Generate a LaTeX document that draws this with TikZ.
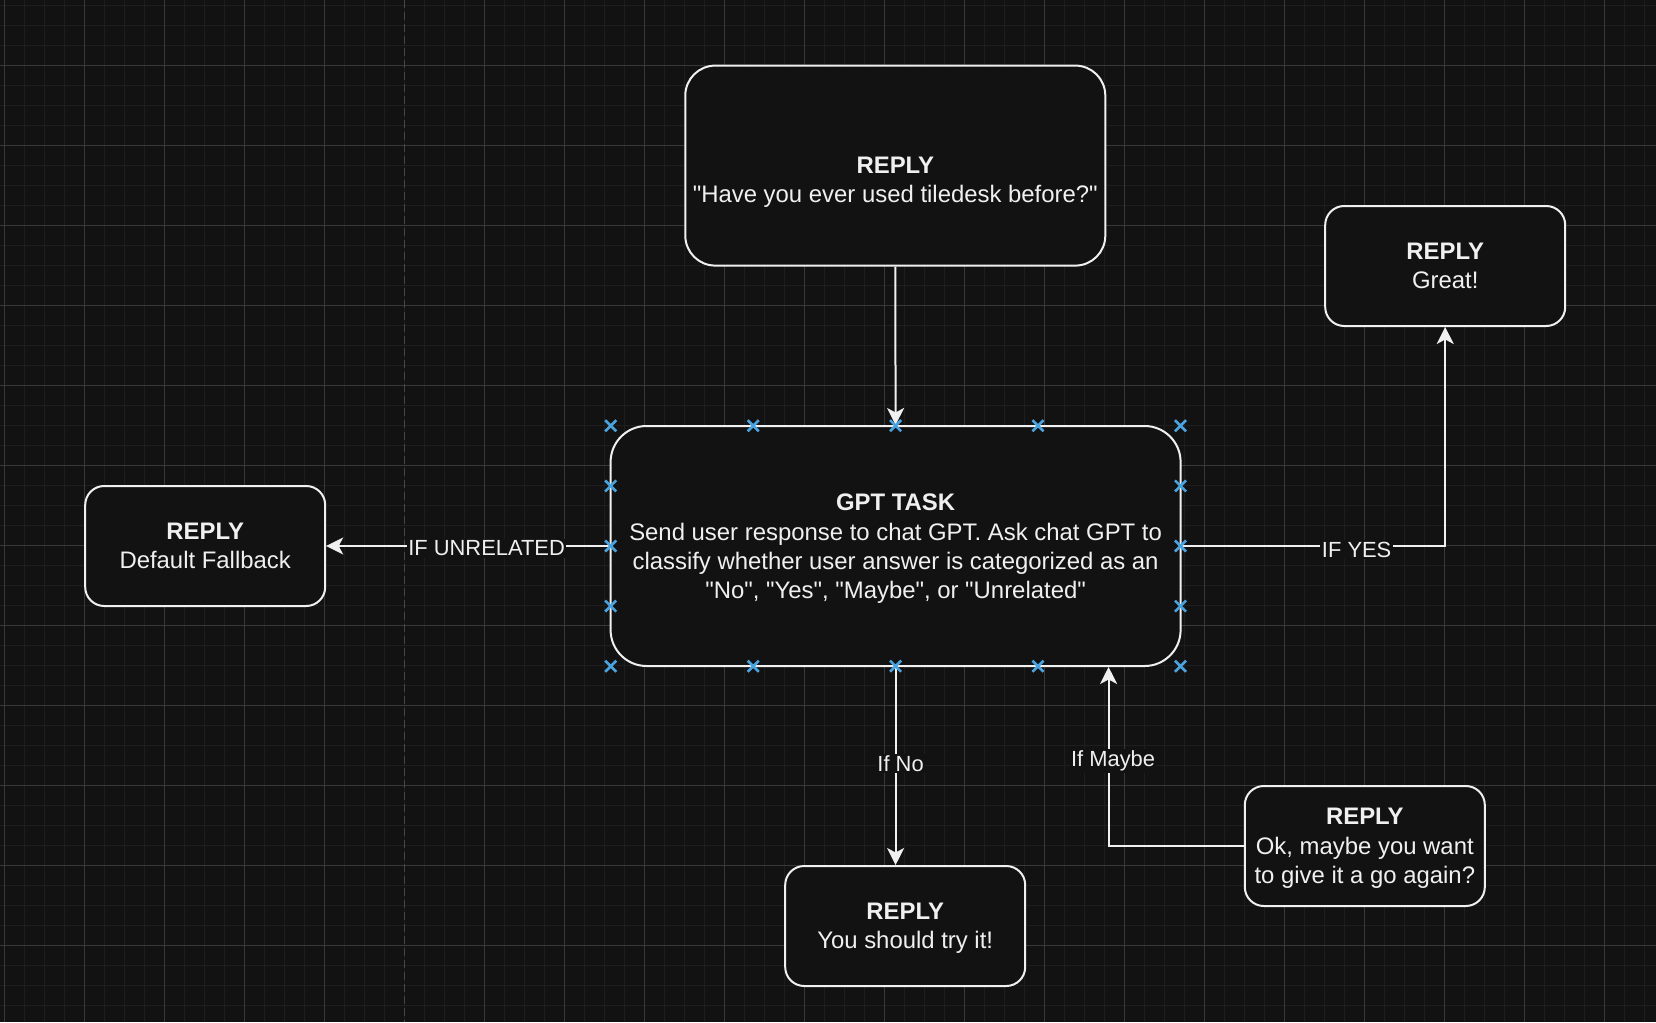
\documentclass[tikz,border=0pt]{standalone}
\usepackage{fontspec}
\setmainfont{Liberation Sans}[Ligatures=TeXOff]
\usetikzlibrary{arrows.meta,shapes.misc,calc}
\definecolor{bgc}{HTML}{121212}
\definecolor{minorc}{HTML}{1E1E1E}
\definecolor{majorc}{HTML}{383838}
\definecolor{dashc}{HTML}{464646}
\definecolor{fg}{HTML}{F0F0F0}
\definecolor{mk}{HTML}{4AA3DF}
\tikzset{
  box/.style={draw=fg, fill=bgc, line width=2pt, text=fg, align=center,
    font=\fontsize{23.9}{29.3}\selectfont, inner sep=0pt},
  small/.style={box, minimum width=240pt, minimum height=120pt, rounded corners=19pt},
  txt/.style={text=fg, align=center, font=\fontsize{23.9}{29.3}\selectfont, inner sep=0pt},
  conn/.style={draw=fg, line width=2pt, -{Stealth[length=17pt,width=17pt,inset=4.5pt]}},
  lbl/.style={fill=bgc, text=fg, font=\fontsize{21.9}{25}\selectfont, inner sep=1.5pt, yshift=-2.5pt},
  marker/.style={cross out, draw=mk, line width=2.6pt, minimum size=8.5pt, inner sep=0pt},
  minorline/.style={draw=minorc, line width=1pt},
  majorline/.style={draw=majorc, line width=1pt}
}
\begin{document}
\begin{tikzpicture}[x=1pt,y=-1pt]
\useasboundingbox (0,0) rectangle (1656,1022);
\fill[bgc] (0,0) rectangle (1656,1022);
\begin{scope}
\clip (0,0) rectangle (1656,1022);
\foreach \i in {0,...,82} { \draw[minorline] ({4.3+20*\i},0) -- ({4.3+20*\i},1022); }
\foreach \j in {0,...,51} { \draw[minorline] (0,{5.3+20*\j}) -- (1656,{5.3+20*\j}); }
\foreach \i in {0,...,4,6,7,...,20} { \draw[majorline] ({4.3+80*\i},0) -- ({4.3+80*\i},1022); }
\foreach \j in {1,...,12} { \draw[majorline] (0,{-14.7+80*\j}) -- (1656,{-14.7+80*\j}); }
\draw[draw=dashc, line width=1.2pt, dash pattern=on 8pt off 4pt] (404.5,0) -- (404.5,1022);
\end{scope}

% nodes
\node[box, minimum width=420pt, minimum height=200pt, rounded corners=30pt] (top) at (895.3,165.6) {};
\node[txt] (toptext) at (895.3,182.5) {\textbf{REPLY}\\"Have you ever used tiledesk before?"};
\node[box, minimum width=570pt, minimum height=240pt, rounded corners=36pt] (gpt) at (895.6,546) {};
\node[txt] (gpttext) at (895.6,549)
  {\textbf{GPT TASK}\\Send user response to chat GPT. Ask chat GPT to\\classify whether user answer is categorized as an\\"No", "Yes", "Maybe", or "Unrelated"};
\node[small] (great) at (1445.2,266) {\textbf{REPLY}\\Great!};
\node[small] (default) at (205.2,546) {\textbf{REPLY}\\Default Fallback};
\node[small] (try) at (905.2,926) {};
\node[txt] (trytext) at (905.2,928) {\textbf{REPLY}\\You should try it!};
\node[small] (ok) at (1364.8,846) {};
\node[txt] (oktext) at (1364.8,848.5) {\textbf{REPLY}\\Ok, maybe you want\\to give it a go again?};

\coordinate (mb) at ($(gpt.south)+(213,0)$);

% connectors
\draw[conn] (top.south) -- (gpt.north);
\draw[conn] (gpt.west) -- node[lbl, pos=0.434] (lu) {IF UNRELATED} (default.east);
\draw[conn] (gpt.east) -| node[lbl, pos=0.332, yshift=-1pt] (ly) {IF YES} (great.south);
\draw[conn] (gpt.south) -- node[lbl, pos=0.475, xshift=5pt] (ln) {If No} (gpt.south |- try.north);
\draw[conn] (ok.west) -| node[lbl, pos=0.745, xshift=4.5pt] (lm) {If Maybe} (mb);

% selection markers
\foreach \x in {610.7,753.2,895.6,1038,1180.5} {
  \node[marker] at (\x,425.7) {};
  \node[marker] at (\x,666.2) {};
}
\foreach \y in {485.9,546,606.1} {
  \node[marker] at (610.7,\y) {};
  \node[marker] at (1180.5,\y) {};
}
\end{tikzpicture}
\end{document}
